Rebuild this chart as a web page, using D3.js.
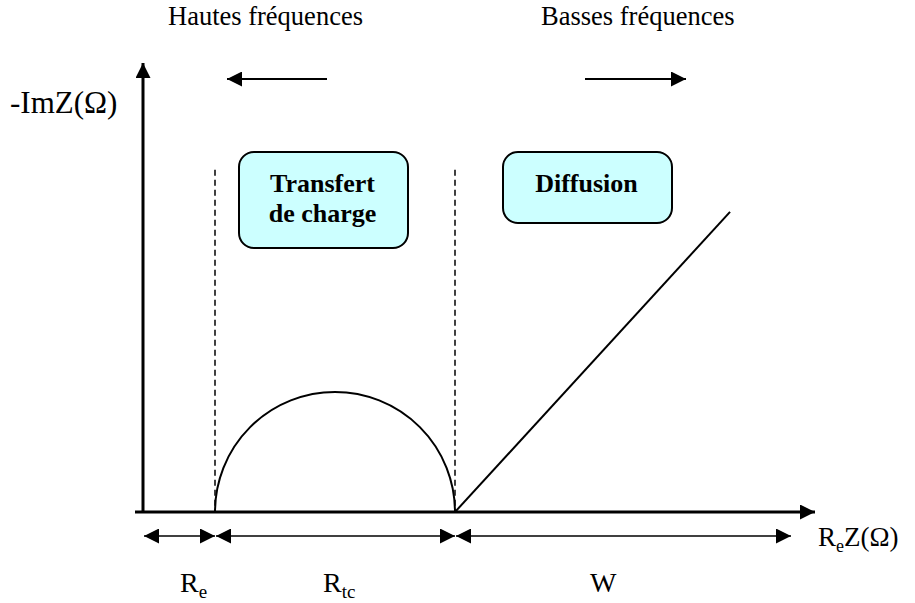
<!DOCTYPE html>
<html>
<head>
<meta charset="utf-8">
<script src="https://cdn.jsdelivr.net/npm/d3@7"></script>
<style>
  body { margin: 0; background: #fff; }
</style>
</head>
<body>
<script>
var width = 915, height = 603;

// values (arbitrary impedance units)
var segments = ["Re", "Rtc", "W"];
var segmentStarts = [0, 3, 13];
var segmentEnds = [3, 13, 27];
var semicircle = [3, 13];          // Re .. Re + Rtc
var warburgX = [13, 24.46];
var warburgY = [0, 12.5];
var dashedX = [3, 13];
var dashedTop = 14.25;
var axisMax = [28, 18.7];
var freqLabels = ["Hautes fréquences", "Basses fréquences"];
var boxLabels = [["Transfert", "de charge"], ["Diffusion"]];

var serif = "'Liberation Serif', 'Times New Roman', Times, 'DejaVu Serif', serif";

var x = d3.scaleLinear().domain([0, axisMax[0]]).range([143, 815]);
var y = d3.scaleLinear().domain([0, axisMax[1]]).range([512, 63]);

var svg = d3.select("body").append("svg")
    .attr("width", width)
    .attr("height", height)
    .attr("font-family", serif)
    .style("font-family", serif);

var defs = svg.append("defs");
defs.append("marker")
    .attr("id", "head")
    .attr("markerUnits", "userSpaceOnUse")
    .attr("markerWidth", 15).attr("markerHeight", 15)
    .attr("refX", 15).attr("refY", 7.5)
    .attr("orient", "auto-start-reverse")
    .append("path")
    .attr("d", "M0,0L15,7.5L0,15Z")
    .attr("fill", "#000");

// axes
svg.append("line")
    .attr("x1", x(0)).attr("y1", y(0))
    .attr("x2", x(0)).attr("y2", y(axisMax[1]))
    .attr("stroke", "#000").attr("stroke-width", 3)
    .attr("marker-end", "url(#head)");
svg.append("line")
    .attr("x1", x(0) - 8).attr("y1", y(0))
    .attr("x2", x(axisMax[0])).attr("y2", y(0))
    .attr("stroke", "#000").attr("stroke-width", 3)
    .attr("marker-end", "url(#head)");

// dashed separators
svg.selectAll(".sep")
    .data(dashedX)
    .enter().append("line")
    .attr("class", "sep")
    .attr("x1", function (d) { return x(d); })
    .attr("x2", function (d) { return x(d); })
    .attr("y1", y(dashedTop))
    .attr("y2", y(0))
    .attr("stroke", "#000")
    .attr("stroke-width", 1.5)
    .attr("stroke-dasharray", "6,4");

// charge transfer semicircle
var r = (x(semicircle[1]) - x(semicircle[0])) / 2;
svg.append("path")
    .attr("d", "M" + x(semicircle[0]) + "," + y(0) +
        "A" + r + "," + r + " 0 0 1 " + x(semicircle[1]) + "," + y(0))
    .attr("fill", "none")
    .attr("stroke", "#000")
    .attr("stroke-width", 2);

// Warburg diffusion line
var line = d3.line()
    .x(function (d) { return x(d[0]); })
    .y(function (d) { return y(d[1]); });
svg.append("path")
    .datum(d3.zip(warburgX, warburgY))
    .attr("d", line)
    .attr("fill", "none")
    .attr("stroke", "#000")
    .attr("stroke-width", 2);

// double arrows under the real axis
svg.selectAll(".span")
    .data(segments)
    .enter().append("line")
    .attr("class", "span")
    .attr("x1", function (d, i) { return x(segmentStarts[i]) + 1; })
    .attr("x2", function (d, i) { return x(segmentEnds[i]); })
    .attr("y1", 536).attr("y2", 536)
    .attr("stroke", "#000")
    .attr("stroke-width", 1.5)
    .attr("marker-start", "url(#head)")
    .attr("marker-end", "url(#head)");

// segment labels with subscripts
var labelX = [180, 323, 590];
segments.forEach(function (s, i) {
    var t = svg.append("text")
        .attr("x", labelX[i]).attr("y", 592)
        .style("font-size", "28px");
    t.append("tspan").text(s.charAt(0));
    if (s.length > 1) {
        t.append("tspan").text(s.slice(1))
            .attr("dy", 6)
            .style("font-size", "19px");
    }
});

// axis titles
svg.append("text")
    .attr("x", 10).attr("y", 113)
    .style("font-size", "31px")
    .text("-ImZ(Ω)");
var xt = svg.append("text")
    .attr("x", 818).attr("y", 546)
    .style("font-size", "27px");
xt.append("tspan").text("R");
xt.append("tspan").text("e").attr("dy", 6).style("font-size", "18px");
xt.append("tspan").text("Z(Ω)").attr("dy", -6);

// frequency direction labels and arrows
svg.selectAll(".freq")
    .data(freqLabels)
    .enter().append("text")
    .attr("class", "freq")
    .attr("x", function (d, i) { return [168, 541][i]; })
    .attr("y", 25)
    .style("font-size", "26.5px")
    .text(function (d) { return d; });

var freqArrows = [[327, 227], [585, 686]];
svg.selectAll(".farrow")
    .data(freqArrows)
    .enter().append("line")
    .attr("class", "farrow")
    .attr("x1", function (d) { return d[0]; })
    .attr("x2", function (d) { return d[1]; })
    .attr("y1", 79).attr("y2", 79)
    .attr("stroke", "#000")
    .attr("stroke-width", 2)
    .attr("marker-end", "url(#head)");

// rounded boxes
var boxes = [
    { x: 239, y: 152, w: 169, h: 96 },
    { x: 503, y: 152, w: 169, h: 71 }
];
var g = svg.selectAll(".box")
    .data(boxes)
    .enter().append("g")
    .attr("class", "box");
g.append("rect")
    .attr("x", function (d) { return d.x; })
    .attr("y", function (d) { return d.y; })
    .attr("width", function (d) { return d.w; })
    .attr("height", function (d) { return d.h; })
    .attr("rx", 15).attr("ry", 15)
    .attr("fill", "#ccffff")
    .attr("stroke", "#000")
    .attr("stroke-width", 2);
g.each(function (d, i) {
    var sel = d3.select(this);
    boxLabels[i].forEach(function (l, j) {
        sel.append("text")
            .attr("x", d.x + d.w / 2 - 1)
            .attr("y", 192 + j * 30)
            .attr("text-anchor", "middle")
            .style("font-size", "26px")
            .style("font-weight", "bold")
            .text(l);
    });
});
</script>
</body>
</html>
